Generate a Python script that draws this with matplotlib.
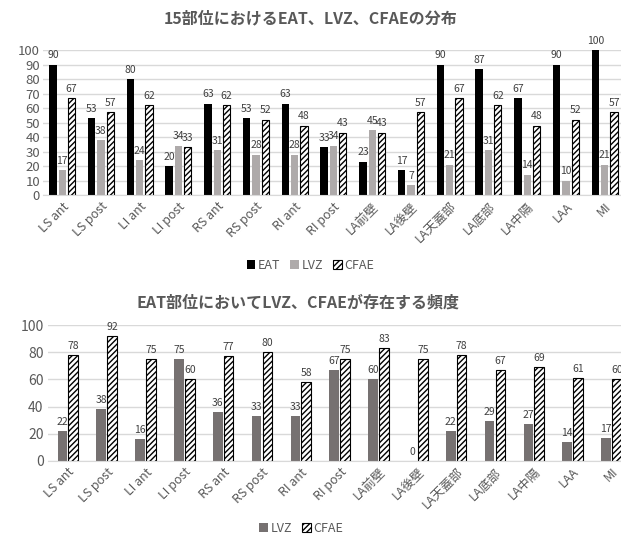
import matplotlib
matplotlib.use("Agg")
import matplotlib.pyplot as plt
import numpy as np

plt.rcParams['font.family'] = ['Noto Sans CJK JP', 'DejaVu Sans']
plt.rcParams['hatch.linewidth'] = 1.0

sites = ["LS ant", "LS post", "LI ant", "LI post", "RS ant", "RS post", "RI ant", "RI post",
         "LA前壁", "LA後壁", "LA天蓋部", "LA底部", "LA中隔", "LAA", "MI"]

# 15部位の分布
eat = [90, 53, 80, 20, 63, 53, 63, 33, 23, 17, 90, 87, 67, 90, 100]
lvz = [17, 38, 24, 34, 31, 28, 28, 34, 45, 7, 21, 31, 14, 10, 21]
cfae = [67, 57, 62, 33, 62, 52, 48, 43, 43, 57, 67, 62, 48, 52, 57]

# EAT部位での頻度
lvz_eat = [22, 38, 16, 75, 36, 33, 33, 67, 60, 0, 22, 29, 27, 14, 17]
cfae_eat = [78, 92, 75, 60, 77, 80, 58, 75, 83, 75, 78, 67, 69, 61, 60]

txt = "#595959"
grid = "#d9d9d9"

fig = plt.figure(figsize=(6.21, 5.39), dpi=100)
ax1 = fig.add_axes([0.069, 0.638, 0.936, 0.269])
ax2 = fig.add_axes([0.078, 0.145, 0.938, 0.252])

x = np.arange(len(sites))


def style(ax, step):
    ax.set_ylim(0, 100)
    ax.set_xlim(-0.5, len(sites) - 0.5)
    ax.set_yticks(np.arange(0, 101, step))
    ax.yaxis.grid(True, color=grid, lw=1)
    ax.set_axisbelow(True)
    for s in ["top", "right", "left"]:
        ax.spines[s].set_visible(False)
    ax.spines["bottom"].set_color(grid)
    ax.tick_params(length=0, colors=txt, labelsize=10)
    ax.set_xticks(x)
    ax.set_xticklabels(sites, rotation=45, ha="right", rotation_mode="anchor", fontsize=9)


def labels(ax, bars, vals):
    for b, v in zip(bars, vals):
        ax.text(b.get_x() + b.get_width() / 2, v + 3, str(v), ha="center", va="bottom",
                fontsize=7.5, color="#404040")


w = 0.19
b1 = ax1.bar(x - 0.24, eat, w, color="black", label="EAT")
b2 = ax1.bar(x, lvz, w, color="#aeaaaa", label="LVZ")
b3 = ax1.bar(x + 0.24, cfae, w, color="white", edgecolor="black", hatch="//////", lw=0.8, label="CFAE")
labels(ax1, b1, eat)
labels(ax1, b2, lvz)
labels(ax1, b3, cfae)
style(ax1, 10)
ax1.tick_params(axis="y", labelsize=9.5, pad=2)
fig.text(0.5, 0.966, "15部位におけるEAT、LVZ、CFAEの分布", ha="center", va="center",
         fontsize=11.5, fontweight="bold", color=txt)
fig.legend(handles=[b1, b2, b3], loc="center", bbox_to_anchor=(0.5, 0.508), ncol=3,
           frameon=False, fontsize=9, handlelength=0.7, handleheight=0.7,
           handletextpad=0.2, columnspacing=0.8, labelcolor=txt)

w2 = 0.25
c1 = ax2.bar(x - 0.14, lvz_eat, w2, color="#767171", label="LVZ")
c2 = ax2.bar(x + 0.14, cfae_eat, w2, color="white", edgecolor="black", hatch="//////", lw=0.8, label="CFAE")
labels(ax2, c1, lvz_eat)
labels(ax2, c2, cfae_eat)
style(ax2, 20)
fig.text(0.48, 0.438, "EAT部位においてLVZ、CFAEが存在する頻度", ha="center", va="center",
         fontsize=11.5, fontweight="bold", color=txt)
fig.legend(handles=[c1, c2], loc="center", bbox_to_anchor=(0.485, 0.02), ncol=2,
           frameon=False, fontsize=9, handlelength=0.7, handleheight=0.7,
           handletextpad=0.2, columnspacing=0.8, labelcolor=txt)

fig.savefig("out.png", dpi=100)
